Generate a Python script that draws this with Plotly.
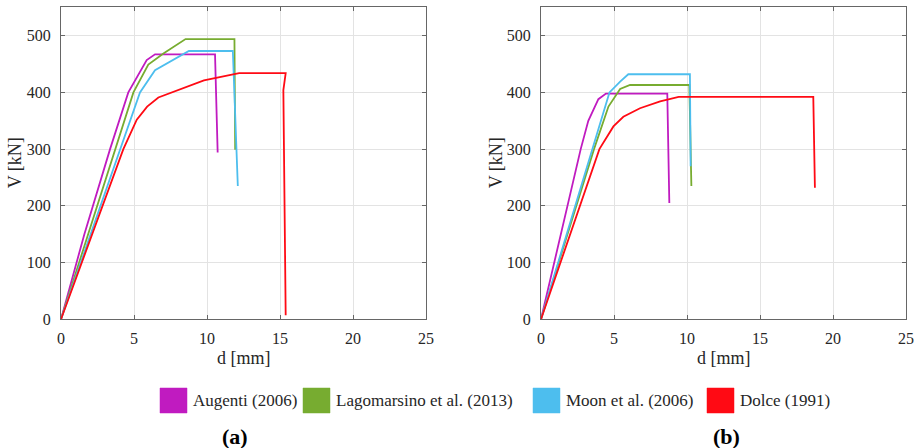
import plotly.graph_objects as go

series_names = ["Augenti (2006)", "Lagomarsino et al. (2013)", "Moon et al. (2006)", "Dolce (1991)"]
series_colors = ["#C01BC0", "#77AC30", "#4DBEEE", "#FF0A14"]

# Panel (a)
a_augenti_d = [0, 1.6, 3.36, 4.61, 5.87, 6.44, 10.55, 10.73]
a_augenti_v = [0, 150, 300, 400, 457, 467, 467, 294]
a_lago_d = [0, 3.75, 4.96, 5.98, 7.04, 8.53, 11.88, 11.93]
a_lago_v = [0, 300, 400, 449, 469, 494, 494, 299]
a_moon_d = [0, 5.41, 6.44, 8.76, 11.77, 12.11]
a_moon_v = [0, 400, 439, 473, 473, 235]
a_dolce_d = [0, 4.27, 5.19, 5.9, 6.67, 9.79, 12.2, 15.39, 15.23, 15.39]
a_dolce_v = [0, 300, 352, 375, 391, 421, 434, 434, 404, 7]

# Panel (b)
b_augenti_d = [0, 2.72, 3.24, 3.93, 4.45, 8.65, 8.79]
b_augenti_v = [0, 300, 350, 388, 398, 398, 205]
b_lago_d = [0, 3.63, 4.62, 5.42, 6.1, 10.16, 10.3]
b_lago_v = [0, 300, 375, 406, 413, 413, 235]
b_moon_d = [0, 4.69, 5.42, 5.98, 10.2, 10.25]
b_moon_v = [0, 400, 419, 432, 432, 270]
b_dolce_d = [0, 4.0, 4.96, 5.64, 6.78, 8.16, 9.43, 18.65, 18.76]
b_dolce_v = [0, 300, 340, 357, 372, 384, 392, 392, 232]

panel_labels = ["(a)", "(b)"]
x_title = "d [mm]"
y_title = "V [kN]"

panels = [
    [(a_augenti_d, a_augenti_v), (a_lago_d, a_lago_v), (a_moon_d, a_moon_v), (a_dolce_d, a_dolce_v)],
    [(b_augenti_d, b_augenti_v), (b_lago_d, b_lago_v), (b_moon_d, b_moon_v), (b_dolce_d, b_dolce_v)],
]

W, H = 921, 448
FONT = "Liberation Serif"
TXT = "#262626"
AX = "#666666"

fig = go.Figure()
for p, data in enumerate(panels):
    xa = "x" if p == 0 else "x2"
    ya = "y" if p == 0 else "y2"
    for i, (d, v) in enumerate(data):
        fig.add_trace(go.Scatter(x=d, y=v, mode="lines", name=series_names[i],
                                 line=dict(color=series_colors[i], width=1.8),
                                 xaxis=xa, yaxis=ya, showlegend=False))

plot_top, plot_bot = 7.3, 319.3
ydom = [(H - plot_bot) / H, (H - plot_top) / H]
xpix = [(61, 426), (541, 906)]
xdoms = [[a / W, b / W] for a, b in xpix]

common_x = dict(range=[0, 25], dtick=5, showgrid=True, gridcolor="#e3e3e3", gridwidth=1,
                showline=True, linecolor=AX, linewidth=1, mirror="ticks",
                ticks="inside", ticklen=4, tickcolor=AX, zeroline=False, automargin=False,
                tickfont=dict(family=FONT, size=16, color=TXT), ticklabelstandoff=4)
common_y = dict(range=[0, 550], tickvals=[0, 100, 200, 300, 400, 500], showgrid=True,
                gridcolor="#e3e3e3", gridwidth=1,
                showline=True, linecolor=AX, linewidth=1, mirror="ticks",
                ticks="inside", ticklen=4, tickcolor=AX, zeroline=False, automargin=False,
                tickfont=dict(family=FONT, size=16, color=TXT), ticklabelstandoff=6)

fig.update_layout(
    width=W, height=H, margin=dict(l=0, r=0, t=0, b=0, autoexpand=False),
    paper_bgcolor="white", plot_bgcolor="white",
    font=dict(family=FONT, color=TXT),
    xaxis=dict(domain=xdoms[0], anchor="y", **common_x),
    yaxis=dict(domain=ydom, anchor="x", **common_y),
    xaxis2=dict(domain=xdoms[1], anchor="y2", **common_x),
    yaxis2=dict(domain=ydom, anchor="x2", **common_y),
)

# Axis titles
ytitle_x = [15, 496]
for (a, b), yx in zip(xpix, ytitle_x):
    fig.add_annotation(xref="paper", yref="paper", x=(a + b) / 2 / W, y=(H - 358) / H,
                       text=x_title, showarrow=False, xanchor="center", yanchor="middle",
                       font=dict(family=FONT, size=18, color=TXT))
    fig.add_annotation(xref="paper", yref="paper", x=yx / W, y=(H - (plot_top + plot_bot) / 2) / H,
                       text=y_title, showarrow=False, xanchor="center", yanchor="middle",
                       textangle=-90, font=dict(family=FONT, size=18, color=TXT))

# Legend (manual, square swatches)
box_x = [160, 303, 533, 707]
box_w, box_h = 27, 25
box_y_top = 388
for i, name in enumerate(series_names):
    x0 = box_x[i]
    fig.add_shape(type="rect", xref="paper", yref="paper",
                  x0=x0 / W, x1=(x0 + box_w) / W,
                  y0=(H - box_y_top - box_h) / H, y1=(H - box_y_top) / H,
                  fillcolor=series_colors[i], line=dict(color=series_colors[i], width=0.5))
    fig.add_annotation(xref="paper", yref="paper", x=(x0 + box_w + 4) / W,
                       y=(H - box_y_top - box_h / 2) / H, text=name, showarrow=False,
                       xanchor="left", yanchor="middle",
                       font=dict(family=FONT, size=17, color=TXT))

label_x = [235, 726]
for lx, lab in zip(label_x, panel_labels):
    fig.add_annotation(xref="paper", yref="paper", x=lx / W, y=(H - 436) / H,
                       text="<b>" + lab + "</b>", showarrow=False,
                       xanchor="center", yanchor="middle",
                       font=dict(family=FONT, size=22, color="black"))

fig.write_html("out.html")
